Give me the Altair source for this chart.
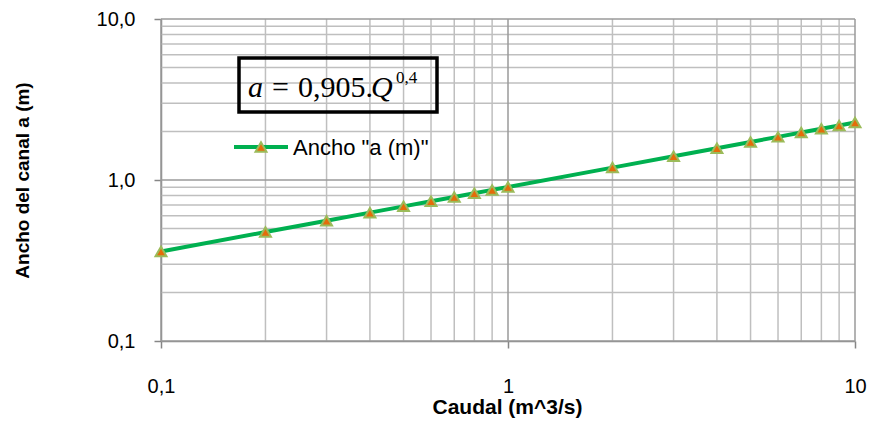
import altair as alt
import pandas as pd

# ---- data ----
caudal = [0.1, 0.2, 0.3, 0.4, 0.5, 0.6, 0.7, 0.8, 0.9, 1, 2, 3, 4, 5, 6, 7, 8, 9, 10]
ancho = [0.360, 0.475, 0.559, 0.627, 0.686, 0.738, 0.785, 0.828, 0.868, 0.905,
         1.194, 1.404, 1.576, 1.723, 1.853, 1.971, 2.079, 2.179, 2.273]
major_ticks = [0.1, 1, 10]
minor_ticks = [0.2, 0.3, 0.4, 0.5, 0.6, 0.7, 0.8, 0.9, 2, 3, 4, 5, 6, 7, 8, 9]
x_labels = ["0,1", "1", "10"]
y_labels = ["0,1", "1,0", "10,0"]
x_title = "Caudal (m^3/s)"
y_title = "Ancho del canal a (m)"
legend_label = 'Ancho "a (m)"'

df = pd.DataFrame({"Q": caudal, "a": ancho})
df_major = pd.DataFrame({"v": major_ticks})
df_minor = pd.DataFrame({"v": minor_ticks})
df_one = pd.DataFrame({"k": [0]})

W, H = 694, 322
FONT = "Liberation Sans"

xs = alt.Scale(type="log", domain=[0.1, 10], nice=False)
ys = alt.Scale(type="log", domain=[0.1, 10], nice=False)

x_expr = "datum.value < 0.5 ? '%s' : (datum.value < 5 ? '%s' : '%s')" % tuple(x_labels)
y_expr = "datum.value < 0.5 ? '%s' : (datum.value < 5 ? '%s' : '%s')" % tuple(y_labels)

x_axis = alt.Axis(values=major_ticks, labelExpr=x_expr, grid=False, tickSize=7,
                  tickColor="#868686", domainColor="#868686", domainWidth=1.5, tickWidth=1.5,
                  labelFont=FONT, labelFontSize=20, labelColor="#000000", labelPadding=28,
                  labelFlush=False,
                  title=x_title, titleFont=FONT, titleFontSize=21, titleFontWeight="bold",
                  titleColor="#000000", titleX=346, titleY=66, titleBaseline="middle")
y_axis = alt.Axis(values=major_ticks, labelExpr=y_expr, grid=False, tickSize=7,
                  tickColor="#868686", domainColor="#868686", domainWidth=1.5, tickWidth=1.5,
                  labelFont=FONT, labelFontSize=20, labelColor="#000000", labelPadding=19,
                  labelFlush=False,
                  title=y_title, titleFont=FONT, titleFontSize=19, titleFontWeight="bold",
                  titleColor="#000000", titleX=-139, titleY=161, titleAngle=270,
                  titleBaseline="middle")

grid_minor_x = alt.Chart(df_minor).mark_rule(color="#bfbfbf", strokeWidth=1.5).encode(
    x=alt.X("v:Q", scale=xs, axis=x_axis))
grid_minor_y = alt.Chart(df_minor).mark_rule(color="#bfbfbf", strokeWidth=1.5).encode(
    y=alt.Y("v:Q", scale=ys, axis=y_axis))
grid_major_x = alt.Chart(df_major).mark_rule(color="#9a9a9a", strokeWidth=1.5).encode(
    x=alt.X("v:Q", scale=xs, axis=x_axis))
grid_major_y = alt.Chart(df_major).mark_rule(color="#9a9a9a", strokeWidth=1.5).encode(
    y=alt.Y("v:Q", scale=ys, axis=y_axis))

line = alt.Chart(df).mark_line(color="#00B050", strokeWidth=4).encode(
    x=alt.X("Q:Q", scale=xs, axis=x_axis),
    y=alt.Y("a:Q", scale=ys, axis=y_axis))
points = alt.Chart(df).mark_point(shape="triangle-up", filled=True, fill="#E46C0A",
                                  stroke="#9BBB59", strokeWidth=2, size=120, opacity=1).encode(
    x=alt.X("Q:Q", scale=xs, axis=x_axis),
    y=alt.Y("a:Q", scale=ys, axis=y_axis))

# ---- annotation: formula box ----
box = alt.Chart(df_one).mark_rect(fill=None, stroke="#000000", strokeWidth=3.5).encode(
    x=alt.value(78), x2=alt.value(276), y=alt.value(39), y2=alt.value(93))
SERIF = "Liberation Serif"
FS = 30
f_a = alt.Chart(df_one).mark_text(text="a", font=SERIF, fontSize=FS, fontStyle="italic",
                                  align="left", baseline="alphabetic", color="#000").encode(
    x=alt.value(87), y=alt.value(78))
f_eq = alt.Chart(df_one).mark_text(text="=", font=SERIF, fontSize=FS,
                                   align="left", baseline="alphabetic", color="#000").encode(
    x=alt.value(111), y=alt.value(78))
f_num = alt.Chart(df_one).mark_text(text="0,905.", font=SERIF, fontSize=FS,
                                    align="left", baseline="alphabetic", color="#000").encode(
    x=alt.value(137), y=alt.value(78))
f_q = alt.Chart(df_one).mark_text(text="Q", font=SERIF, fontSize=FS, fontStyle="italic",
                                  align="left", baseline="alphabetic", color="#000").encode(
    x=alt.value(210), y=alt.value(78))
f_exp = alt.Chart(df_one).mark_text(text="0,4", font=SERIF, fontSize=17,
                                    align="left", baseline="alphabetic", color="#000").encode(
    x=alt.value(235), y=alt.value(64))

# ---- legend ----
leg_line = alt.Chart(df_one).mark_rule(color="#00B050", strokeWidth=4).encode(
    x=alt.value(73), x2=alt.value(127), y=alt.value(128))
leg_pt = alt.Chart(df_one).mark_point(shape="triangle-up", filled=True, fill="#E46C0A",
                                      stroke="#9BBB59", strokeWidth=2, size=120, opacity=1).encode(
    x=alt.value(100), y=alt.value(128))
leg_txt = alt.Chart(df_one).mark_text(text=legend_label, font=FONT, fontSize=22,
                                      align="left", baseline="middle", color="#000").encode(
    x=alt.value(132), y=alt.value(129))

chart = alt.layer(
    grid_minor_x, grid_minor_y, grid_major_x, grid_major_y,
    line, points, box, f_a, f_eq, f_num, f_q, f_exp, leg_line, leg_pt, leg_txt
).properties(
    width=W, height=H,
    autosize=alt.AutoSizeParams(type="none"),
    padding={"left": 161, "top": 19, "right": 17, "bottom": 83},
    background="#ffffff"
).configure_view(stroke=None)

chart.save("out.html", embed_options={"renderer": "svg", "actions": False})
